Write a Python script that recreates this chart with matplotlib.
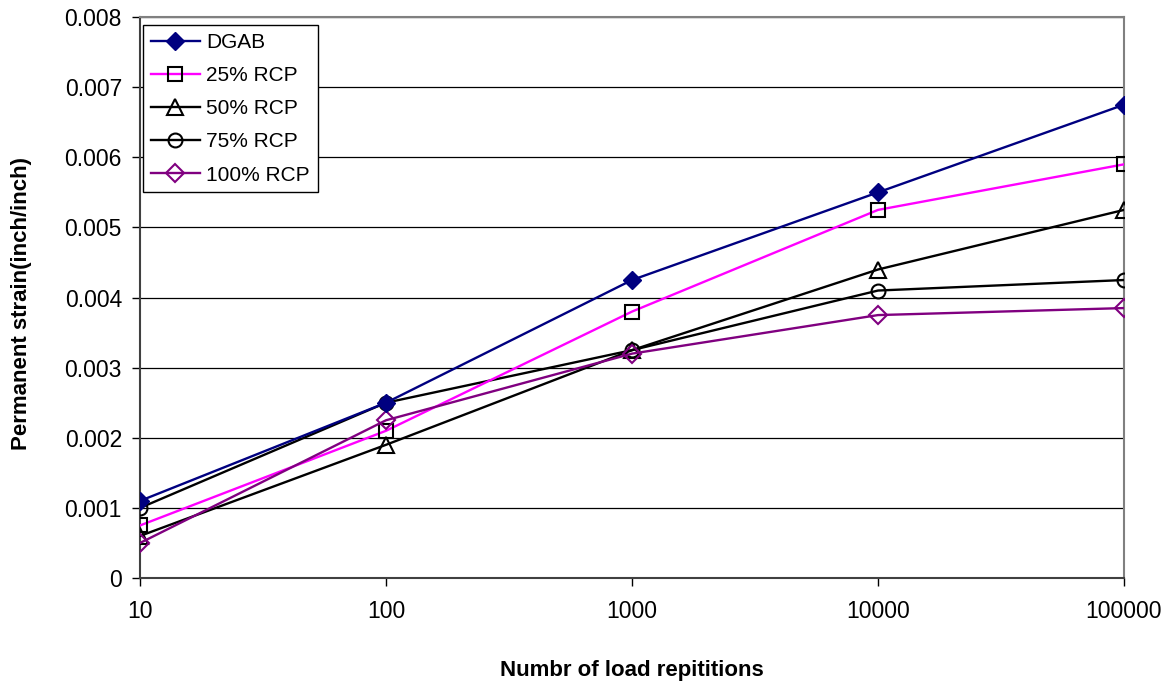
import matplotlib.pyplot as plt
from matplotlib.ticker import FixedLocator, FixedFormatter

plt.rcParams['font.family'] = ['Liberation Sans', 'DejaVu Sans']

cycles = [10, 100, 1000, 10000, 100000]
dgab = [0.0011, 0.0025, 0.00425, 0.0055, 0.00675]
rcp25 = [0.00075, 0.0021, 0.0038, 0.00525, 0.0059]
rcp50 = [0.0006, 0.0019, 0.00325, 0.0044, 0.00525]
rcp75 = [0.0010, 0.0025, 0.00325, 0.0041, 0.00425]
rcp100 = [0.0005, 0.00225, 0.0032, 0.00375, 0.00385]

x_labels = ['10', '100', '1000', '10000', '100000']
y_ticks = [0, 0.001, 0.002, 0.003, 0.004, 0.005, 0.006, 0.007, 0.008]
y_labels = ['0', '0.001', '0.002', '0.003', '0.004', '0.005', '0.006', '0.007', '0.008']

fig = plt.figure(figsize=(11.69, 6.83), dpi=100)
ax = fig.add_axes([0.1198, 0.1537, 0.8417, 0.8213])

ax.plot(cycles, dgab, color='#000080', lw=1.7, marker='D', ms=9,
        mfc='#000080', mec='#000080', label='DGAB', zorder=5)
ax.plot(cycles, rcp25, color='#FF00FF', lw=1.7, marker='s', ms=10,
        mfc='none', mec='black', mew=1.5, label='25% RCP', zorder=4)
ax.plot(cycles, rcp50, color='black', lw=1.7, marker='^', ms=11,
        mfc='none', mec='black', mew=1.5, label='50% RCP', zorder=3)
ax.plot(cycles, rcp75, color='black', lw=1.7, marker='o', ms=10,
        mfc='none', mec='black', mew=1.5, label='75% RCP', zorder=3)
ax.plot(cycles, rcp100, color='#800080', lw=1.7, marker='D', ms=9,
        mfc='none', mec='#800080', mew=1.5, label='100% RCP', zorder=4)

ax.set_xscale('log')
ax.set_xlim(10, 100000)
ax.set_ylim(0, 0.008)
ax.xaxis.set_major_locator(FixedLocator(cycles))
ax.xaxis.set_major_formatter(FixedFormatter(x_labels))
ax.xaxis.set_minor_locator(FixedLocator([]))
ax.set_yticks(y_ticks)
ax.set_yticklabels(y_labels)
ax.tick_params(axis='both', labelsize=16.5, direction='out', length=6, width=1)
ax.tick_params(axis='x', pad=10)
ax.tick_params(axis='y', pad=7)

ax.grid(axis='y', color='black', lw=0.9)
ax.set_axisbelow(True)
for side in ['top', 'right']:
    ax.spines[side].set_color('#808080')
    ax.spines[side].set_linewidth(1.5)
for side in ['left', 'bottom']:
    ax.spines[side].set_color('#404040')
    ax.spines[side].set_linewidth(1.5)

ax.set_xlabel('Numbr of load repititions', fontsize=16, fontweight='bold', va='center')
ax.xaxis.set_label_coords(0.5, -0.164)
ax.set_ylabel('Permanent strain(inch/inch)', fontsize=16, fontweight='bold', va='center')
ax.yaxis.set_label_coords(-0.12, 0.49)

leg = ax.legend(loc='upper left', bbox_to_anchor=(0.003, 0.986), fontsize=15,
                fancybox=False, framealpha=1, edgecolor='black',
                handlelength=2.35, borderpad=0.38, labelspacing=0.68,
                handletextpad=0.3, borderaxespad=0)
leg.get_frame().set_linewidth(1.0)

fig.savefig('out.png', dpi=100)
